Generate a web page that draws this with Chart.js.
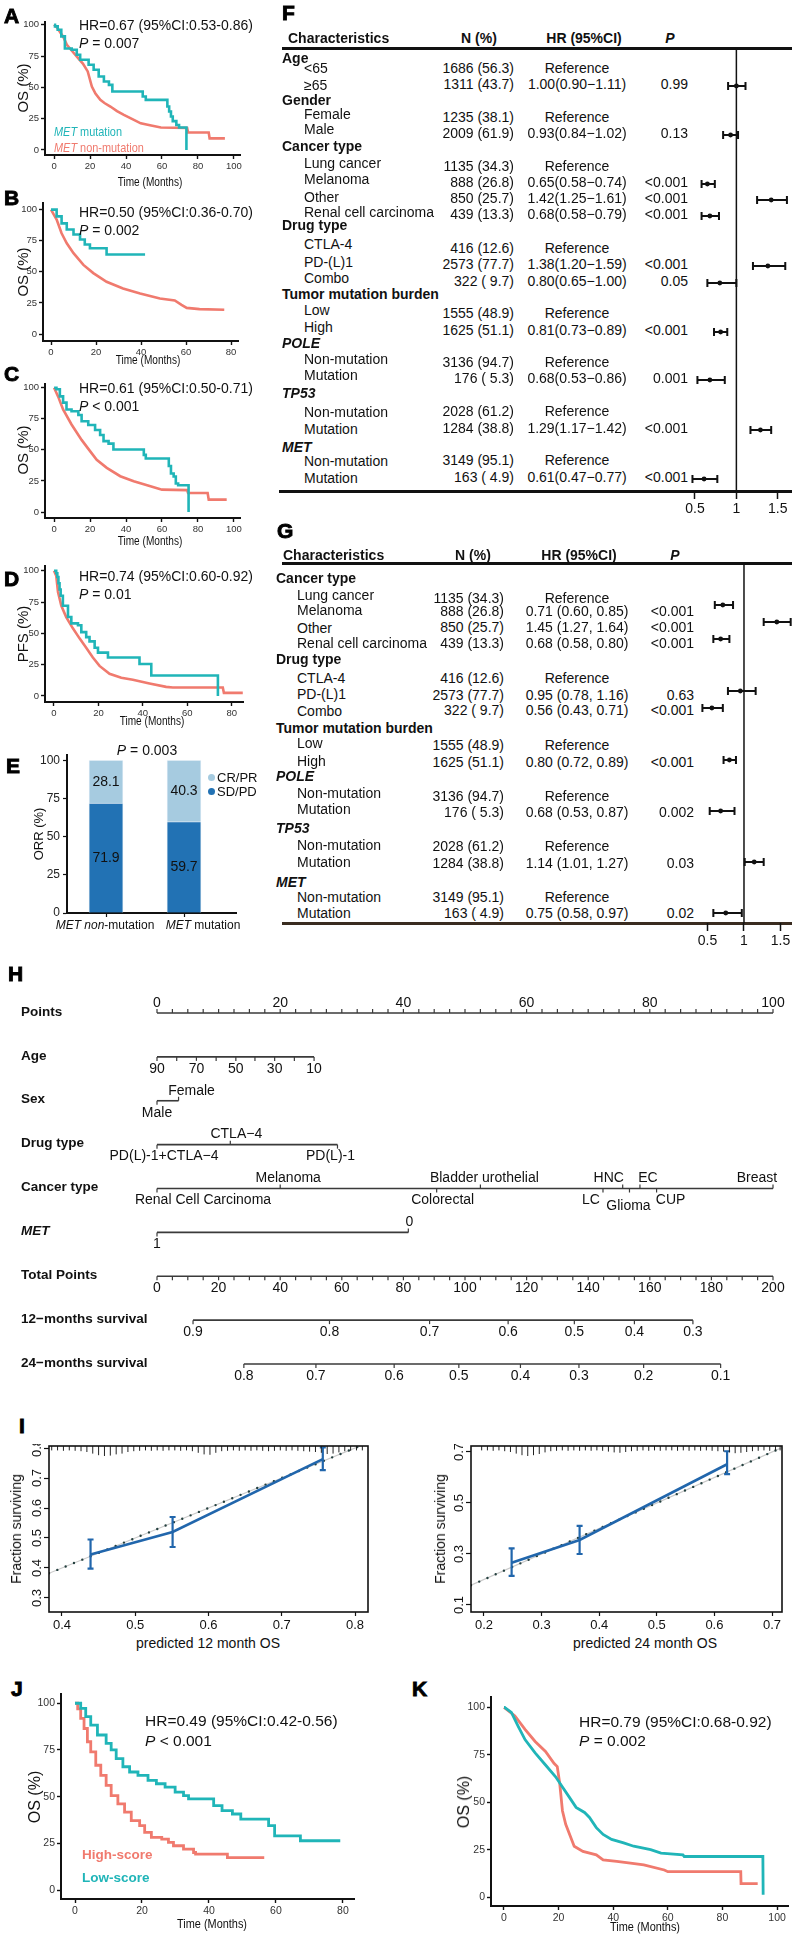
<!DOCTYPE html>
<html>
<head>
<meta charset="utf-8">
<title>MET mutation and ICI outcome</title>
<script src="https://cdn.jsdelivr.net/npm/chart.js@4.4.1/dist/chart.umd.min.js"></script>
<style>
  html, body { margin: 0; padding: 0; background: #fff; overflow: hidden; }
  body { position: relative; width: 792px; height: 1934px; }
  canvas { position: absolute; }
  .t { position: absolute; white-space: pre; line-height: 1; color: #111; }
  .rule { position: absolute; }
  .dot { position: absolute; border-radius: 50%; }
</style>
</head>
<body>
<script>
// ========== DATA: Kaplan-Meier curves (time in months, survival in %) ==========
const aMutT = [0, 0.5, 2, 4, 6, 9.8, 12.6, 14.5, 19.2, 22, 24.8, 27.7, 30.5, 32.4, 49.3, 51, 63, 64, 65, 66, 68, 69.5, 73.6];
const aMutS = [100, 98.7, 96, 90.7, 81, 80, 76, 72, 68, 64, 58.7, 54.7, 52, 46.7, 42.7, 40, 34.7, 30.7, 26.7, 23, 20, 18, 0];
const aNonT = [0, 2, 5.2, 7.1, 10, 13.6, 16, 18.7, 21, 23, 25.7, 28, 31.3, 35, 38.8, 43, 48.2, 54, 59.4, 74, 74.5, 86, 86.5, 95];
const aNonS = [100, 97, 90, 84, 79, 73, 69, 62.7, 50.7, 45, 40, 37.5, 34.7, 31, 28, 25, 21.3, 19.5, 17.9, 17.5, 13.9, 13.9, 9.3, 9.3];

const bMutT = [0, 1, 2.5, 4.7, 7, 10, 12.9, 15, 17.3, 24.7, 41.8];
const bMutS = [100, 100, 94.6, 89, 84, 80, 76, 72, 69, 64, 64];
const bNonT = [0, 0.3, 2.5, 4.7, 7, 10, 14.4, 18.8, 24.7, 32, 39.6, 48.4, 55, 58, 60.3, 66, 77];
const bNonS = [100, 100, 92, 81, 73, 65, 55.6, 49, 42, 36.6, 32.5, 28.5, 27, 23.4, 21, 20, 19.5];

const cMutT = [0, 1.3, 3.2, 5, 6.9, 9.7, 13.5, 15.3, 19, 22.8, 25.6, 27.5, 30.3, 33, 49.9, 51, 63.8, 65, 66.5, 67.7, 69, 74.8];
const cMutS = [100, 98.7, 93, 88, 82.5, 81, 78, 73, 70, 66, 62, 57, 55, 50.3, 46, 43, 37, 31, 28.6, 23, 21.5, 0];
const cNonT = [0, 2.2, 5, 9.7, 15.3, 20, 23.7, 29.3, 36.8, 44.3, 53.6, 60, 74, 74.5, 85.4, 86, 96];
const cNonS = [100, 93, 82.5, 70.4, 58, 49, 42, 35.5, 28.8, 24.7, 20.7, 18, 17.6, 15.3, 15.3, 10, 10];

const dMutT = [0, 1, 1.5, 2, 2.5, 3, 4, 6.3, 7.8, 10.8, 12.3, 14.5, 16, 18.3, 19.8, 24.3, 38.5, 43.8, 73.8];
const dMutS = [100, 98, 95, 90, 85, 80, 72, 63, 58, 56.5, 51, 47, 43.6, 38.5, 34.6, 30.7, 25.5, 16.4, 0];
const dNonT = [0, 1, 1.8, 3.3, 5.5, 8.5, 11.5, 14.5, 17.5, 20.5, 25, 30.3, 35.5, 43, 50.5, 53.5, 76, 76.5, 85];
const dNonS = [100, 96, 83, 72, 63, 54, 46, 38.5, 30.7, 24, 17.7, 14.6, 13, 10, 7.3, 6.8, 6.8, 2.5, 2.5];

const jLowT = [0, 0.2, 1.7, 3.2, 4.7, 6.7, 9.3, 10.8, 12.3, 14.3, 16.3, 18.8, 21.8, 24.3, 26.9, 29.9, 32.4, 33.9, 41.4, 43.9, 47, 49.5, 57.8, 59.6, 67.3, 79.2];
const jLowS = [100, 100, 97.3, 92.8, 88.3, 83, 78.5, 75, 70.4, 66, 63.2, 61.4, 58.7, 56.9, 55.1, 52.4, 50.6, 48.8, 45.2, 42.5, 40.7, 38, 34.5, 29, 26.4, 26.4];
const jHighT = [0, 0.8, 1.7, 2.7, 3.7, 4.7, 6.2, 7.7, 9.3, 10.8, 12.8, 14.8, 16.8, 19.3, 20.8, 22.8, 25.9, 27.9, 29.4, 32.4, 35.4, 36, 45.5, 56.5];
const jHighS = [100, 97, 91.9, 86.5, 79.4, 74, 66.8, 61.4, 56, 50.6, 46.1, 41.7, 37.2, 34.5, 30.9, 28.2, 27.3, 25.5, 23.7, 21.9, 20.1, 19.2, 17.4, 17.4];

const kLowT = [0, 0.2, 2.7, 5.2, 7.7, 11.4, 15.2, 18.9, 21.4, 23.9, 26.4, 29.5, 31.3, 33.8, 36.3, 39.4, 43.8, 47.5, 53.7, 57.5, 65.5, 66, 94.8, 94.9];
const kLowS = [100, 100, 97.3, 90, 83, 76, 69.6, 63.4, 58, 52.7, 47.3, 44.6, 42, 36.6, 33, 30.4, 28.6, 26.8, 25, 23.2, 22.3, 21.4, 21.4, 1.2];
const kHighT = [0, 4, 7.7, 11.4, 15.2, 18.3, 19.5, 20.4, 21.4, 22.6, 24.5, 25.7, 28.9, 33.8, 36.3, 41.3, 46.3, 51.2, 58.7, 60, 86.7, 86.8, 92.9];
const kHighS = [100, 95.5, 88.4, 82, 76.8, 70.5, 68.8, 60, 45.5, 38.4, 31.3, 26.8, 24.1, 22.3, 19.6, 18.8, 17.9, 17, 14.3, 13.4, 13.4, 7.1, 7.1];

const kmTicks100 = [0, 20, 40, 60, 80, 100];
const kmTicks80 = [0, 20, 40, 60, 80];
const kmYTicks = [0, 25, 50, 75, 100];

// ========== DATA: panel E (objective response) ==========
const eCats = [
  [['MET ', true], ['non', true], ['-mutation', false]],
  [['MET', true], [' mutation', false]]
];
const eSdPd = [71.9, 59.7];
const eCrPr = [28.1, 40.3];
const eYTicks = [0, 25, 50, 75, 100];

// ========== DATA: panel F (univariate Cox) ==========
const fRows = ['Age', '<65', '≥65', 'Gender', 'Female', 'Male', 'Cancer type', 'Lung cancer', 'Melanoma', 'Other', 'Renal cell carcinoma', 'Drug type', 'CTLA-4', 'PD-(L)1', 'Combo', 'Tumor mutation burden', 'Low', 'High', 'POLE', 'Non-mutation', 'Mutation', 'TP53', 'Non-mutation', 'Mutation', 'MET', 'Non-mutation', 'Mutation'];
const fN = ['', '1686 (56.3)', '1311 (43.7)', '', '1235 (38.1)', '2009 (61.9)', '', '1135 (34.3)', '888 (26.8)', '850 (25.7)', '439 (13.3)', '', '416 (12.6)', '2573 (77.7)', '322 ( 9.7)', '', '1555 (48.9)', '1625 (51.1)', '', '3136 (94.7)', '176 ( 5.3)', '', '2028 (61.2)', '1284 (38.8)', '', '3149 (95.1)', '163 ( 4.9)'];
const fHR = [null, null, 1.00, null, null, 0.93, null, null, 0.65, 1.42, 0.68, null, null, 1.38, 0.80, null, null, 0.81, null, null, 0.68, null, null, 1.29, null, null, 0.61];
const fLo = [null, null, 0.90, null, null, 0.84, null, null, 0.58, 1.25, 0.58, null, null, 1.20, 0.65, null, null, 0.73, null, null, 0.53, null, null, 1.17, null, null, 0.47];
const fHi = [null, null, 1.11, null, null, 1.02, null, null, 0.74, 1.61, 0.79, null, null, 1.59, 1.00, null, null, 0.89, null, null, 0.86, null, null, 1.42, null, null, 0.77];
const fP = ['', '', '0.99', '', '', '0.13', '', '', '<0.001', '<0.001', '<0.001', '', '', '<0.001', '0.05', '', '', '<0.001', '', '', '0.001', '', '', '<0.001', '', '', '<0.001'];

// ========== DATA: panel G (multivariate Cox) ==========
const gRows = ['Cancer type', 'Lung cancer', 'Melanoma', 'Other', 'Renal cell carcinoma', 'Drug type', 'CTLA-4', 'PD-(L)1', 'Combo', 'Tumor mutation burden', 'Low', 'High', 'POLE', 'Non-mutation', 'Mutation', 'TP53', 'Non-mutation', 'Mutation', 'MET', 'Non-mutation', 'Mutation'];
const gN = ['', '1135 (34.3)', '888 (26.8)', '850 (25.7)', '439 (13.3)', '', '416 (12.6)', '2573 (77.7)', '322 ( 9.7)', '', '1555 (48.9)', '1625 (51.1)', '', '3136 (94.7)', '176 ( 5.3)', '', '2028 (61.2)', '1284 (38.8)', '', '3149 (95.1)', '163 ( 4.9)'];
const gHR = [null, null, 0.71, 1.45, 0.68, null, null, 0.95, 0.56, null, null, 0.80, null, null, 0.68, null, null, 1.14, null, null, 0.75];
const gLo = [null, null, 0.60, 1.27, 0.58, null, null, 0.78, 0.43, null, null, 0.72, null, null, 0.53, null, null, 1.01, null, null, 0.58];
const gHi = [null, null, 0.85, 1.64, 0.80, null, null, 1.16, 0.71, null, null, 0.89, null, null, 0.87, null, null, 1.27, null, null, 0.97];
const gP = ['', '', '<0.001', '<0.001', '<0.001', '', '', '0.63', '<0.001', '', '', '<0.001', '', '', '0.002', '', '', '0.03', '', '', '0.02'];
const forestTicks = [0.5, 1, 1.5];

// ========== DATA: panel H (nomogram, values in points) ==========
const nomoNames = ['Points', 'Age', 'Sex', 'Drug type', 'Cancer type', 'MET', 'Total Points', '12−months survival', '24−months survival'];
const pointsLabels = [0, 20, 40, 60, 80, 100];
const ageValues = [90, 80, 70, 60, 50, 40, 30, 20, 10];
const agePoints = [0, 3.2, 6.4, 9.6, 12.8, 15.9, 19.1, 22.3, 25.5];
const ageShown = [90, 70, 50, 30, 10];
const sexLevels = ['Male', 'Female'];
const sexPoints = [0, 3.5];
const drugLevels = ['PD(L)-1+CTLA−4', 'CTLA−4', 'PD(L)-1'];
const drugPoints = [0, 11.9, 29.3];
const cancerLevels = ['Renal Cell Carcinoma', 'Melanoma', 'Colorectal', 'Bladder urothelial', 'LC', 'HNC', 'Glioma', 'EC', 'CUP', 'Breast'];
const cancerPoints = [0, 20, 45.4, 52.5, 72.4, 75.6, 76.7, 78.4, 81.1, 100];
const metLevels = ['1', '0'];
const metPoints = [0, 40.8];
const totalLabels = [0, 20, 40, 60, 80, 100, 120, 140, 160, 180, 200];
const surv12Labels = ['0.9', '0.8', '0.7', '0.6', '0.5', '0.4', '0.3'];
const surv12Points = [11.7, 56, 88.5, 114, 135.5, 155, 174];
const surv24Labels = ['0.8', '0.7', '0.6', '0.5', '0.4', '0.3', '0.2', '0.1'];
const surv24Points = [28.2, 51.6, 77, 98, 118, 137, 158, 183];

// ========== DATA: panel I (calibration) ==========
const cal12Pred = [0.439, 0.551, 0.756];
const cal12Obs = [0.445, 0.52, 0.763];
const cal12Lo = [0.398, 0.47, 0.726];
const cal12Hi = [0.495, 0.57, 0.802];
const cal24Pred = [0.248, 0.366, 0.622];
const cal24Obs = [0.266, 0.355, 0.652];
const cal24Lo = [0.214, 0.30, 0.613];
const cal24Hi = [0.322, 0.41, 0.703];
const rug12X = [0.386, 0.394, 0.402, 0.410, 0.418, 0.426, 0.434, 0.442, 0.450, 0.458, 0.466, 0.474, 0.482, 0.490, 0.498, 0.506, 0.514, 0.522, 0.530, 0.538, 0.546, 0.554, 0.562, 0.570, 0.578, 0.586, 0.594, 0.602, 0.610, 0.618, 0.626, 0.634, 0.642, 0.650, 0.658, 0.666, 0.674, 0.682, 0.690, 0.698, 0.706, 0.714, 0.722, 0.730, 0.738, 0.746, 0.754, 0.762, 0.770, 0.778, 0.786, 0.794, 0.802, 0.810];
const rug12H = [0.3, 0.3, 0.35, 0.3, 0.35, 0.4, 0.5, 0.7, 0.9, 1.0, 0.95, 0.8, 0.7, 0.5, 0.4, 0.35, 0.3, 0.35, 0.3, 0.35, 0.3, 0.3, 0.35, 0.3, 0.4, 0.6, 0.8, 0.85, 0.6, 0.4, 0.35, 0.3, 0.35, 0.3, 0.35, 0.3, 0.35, 0.4, 0.35, 0.3, 0.35, 0.3, 0.35, 0.4, 0.45, 0.5, 0.6, 0.75, 0.7, 0.55, 0.4, 0.35, 0.3, 0.3];
const rug24X = [0.196, 0.206, 0.216, 0.226, 0.236, 0.246, 0.256, 0.266, 0.276, 0.286, 0.296, 0.306, 0.316, 0.326, 0.336, 0.346, 0.356, 0.366, 0.376, 0.386, 0.396, 0.406, 0.416, 0.426, 0.436, 0.446, 0.456, 0.466, 0.476, 0.486, 0.496, 0.506, 0.516, 0.526, 0.536, 0.546, 0.556, 0.566, 0.576, 0.586, 0.596, 0.606, 0.616, 0.626, 0.636, 0.646, 0.656, 0.666, 0.676, 0.686, 0.696, 0.706, 0.714];
const rug24H = [0.3, 0.3, 0.35, 0.3, 0.4, 0.5, 0.7, 0.9, 1.0, 0.9, 0.75, 0.55, 0.4, 0.35, 0.3, 0.35, 0.3, 0.35, 0.3, 0.35, 0.3, 0.35, 0.45, 0.55, 0.6, 0.5, 0.4, 0.35, 0.3, 0.35, 0.3, 0.35, 0.3, 0.3, 0.35, 0.3, 0.35, 0.3, 0.35, 0.3, 0.35, 0.4, 0.45, 0.55, 0.65, 0.6, 0.5, 0.4, 0.35, 0.3, 0.35, 0.3, 0.3];
const cal12XTicks = [0.4, 0.5, 0.6, 0.7, 0.8];
const cal12YTicks = [0.3, 0.4, 0.5, 0.6, 0.7, 0.8];
const cal24XTicks = [0.2, 0.3, 0.4, 0.5, 0.6, 0.7];
const cal24YTicks = [0.1, 0.3, 0.5, 0.7];

// ========== STYLE ==========
const SANS = "'Liberation Sans', Arial, Helvetica, sans-serif";
function hasFont(name) {
  const c = document.createElement('canvas').getContext('2d');
  c.font = '40px monospace';
  const base = c.measureText('abcdefghijMWil').width;
  c.font = `40px '${name}', monospace`;
  return c.measureText('abcdefghijMWil').width !== base;
}
const HAS_NARROW = hasFont('Liberation Sans Narrow');
const NARROW = HAS_NARROW ? "'Liberation Sans Narrow', 'Arial Narrow', sans-serif" : SANS;
const NARROW_SX = HAS_NARROW ? 1 : 0.84;
const NARROW_DS = HAS_NARROW ? 0 : -1.5;
const TEAL = '#20B5B8';
const SALMON = '#F07A6E';
const E_DARK = '#2272B4';
const E_LIGHT = '#A6CBE0';
const CAL_BLUE = '#2166AC';

Chart.defaults.font.family = SANS;
Chart.defaults.color = '#111';
Chart.defaults.animation = false;
Chart.defaults.events = [];

// ========== HELPERS ==========
function txt(content, x, y, o = {}) {
  const d = document.createElement('div');
  d.className = 't';
  if (o.html) d.innerHTML = content; else d.textContent = content;
  const s = d.style;
  s.left = x + 'px';
  s.top = y + 'px';
  s.fontFamily = o.family || SANS;
  s.fontSize = (o.size || 14) + 'px';
  s.fontWeight = o.weight || 400;
  s.fontStyle = o.style || 'normal';
  s.color = o.color || '#111';
  const align = o.align || 'left';
  const tx = align === 'center' ? '-50%' : align === 'right' ? '-100%' : '0';
  s.transformOrigin = align === 'center' ? '50% 50%' : align === 'right' ? '100% 50%' : '0 50%';
  let tf = `translate(${tx}, -50%)`;
  if (o.rotate) {
    s.transformOrigin = '50% 50%';
    tf = `translate(-50%, -50%) rotate(${o.rotate}deg)`;
  }
  if (o.sx && o.sx !== 1) tf += ` scaleX(${o.sx})`;
  s.transform = tf;
  if (o.stroke) s.webkitTextStroke = o.stroke;
  document.body.appendChild(d);
  return d;
}
function rule(x, y, w, h, color) {
  const d = document.createElement('div');
  d.className = 'rule';
  Object.assign(d.style, { left: x + 'px', top: y + 'px', width: w + 'px', height: h + 'px', background: color || '#111' });
  document.body.appendChild(d);
}
function letter(ch, x, y) {
  txt(ch, x, y, { size: 21, weight: 700, stroke: '0.9px #000', color: '#000' });
}
function seq(a, b, step) {
  const out = [];
  for (let v = a; v <= b + 1e-9; v += step) out.push(+v.toFixed(4));
  return out;
}
// build a chart, then size and move its canvas so the plot area lands on `area`
function placeChart(makeConfig, area) {
  const build = (w, h) => {
    const cv = document.createElement('canvas');
    cv.width = w; cv.height = h;
    cv.style.width = w + 'px'; cv.style.height = h + 'px';
    document.body.appendChild(cv);
    return new Chart(cv, makeConfig());
  };
  const aw = area.right - area.left, ah = area.bottom - area.top;
  let chart = build(aw + 120, ah + 120);
  const ca = chart.chartArea;
  const mL = ca.left, mT = ca.top, mR = chart.width - ca.right, mB = chart.height - ca.bottom;
  const old = chart.canvas;
  chart.destroy();
  old.remove();
  chart = build(Math.round(aw + mL + mR), Math.round(ah + mT + mB));
  chart.canvas.style.left = (area.left - chart.chartArea.left) + 'px';
  chart.canvas.style.top = (area.top - chart.chartArea.top) + 'px';
  return chart;
}
function drawRich(ctx, parts, cx, y, size) {
  const fontOf = it => `${it ? 'italic ' : ''}${size}px ${SANS}`;
  let total = 0;
  parts.forEach(([t, it]) => { ctx.font = fontOf(it); total += ctx.measureText(t).width; });
  let x = cx - total / 2;
  ctx.textAlign = 'left';
  parts.forEach(([t, it]) => { ctx.font = fontOf(it); ctx.fillText(t, x, y); x += ctx.measureText(t).width; });
}

// ========== KAPLAN-MEIER PANELS ==========
function kmAxis(r, size, dir) {
  return {
    type: 'linear', min: r.min, max: r.max,
    afterBuildTicks: sc => { sc.ticks = r.ticks.map(v => ({ value: v })); },
    grid: { display: true, drawOnChartArea: false, drawTicks: true, tickLength: 4, tickColor: '#111', tickWidth: 1.4 },
    border: { display: true, color: '#111', width: 2 },
    ticks: { font: { size: size + NARROW_DS, family: NARROW }, color: '#333', padding: 2, maxRotation: 0, autoSkip: false },
    afterFit: sc => { if (dir === 'x') sc.height = size + 10; else sc.width = 30; }
  };
}
function kmConfig(p) {
  return () => ({
    type: 'line',
    data: {
      datasets: p.series.map(s => ({
        data: s.t.map((t, i) => ({ x: t, y: s.s[i] })),
        borderColor: s.color,
        borderWidth: p.lw || 2.6,
        stepped: s.step ? 'before' : false,
        pointRadius: 0,
        tension: 0,
        fill: false
      }))
    },
    options: {
      responsive: false,
      maintainAspectRatio: false,
      layout: { padding: { top: 2, right: 6 } },
      plugins: { legend: { display: false }, tooltip: { enabled: false } },
      scales: { x: kmAxis(p.x, p.size, 'x'), y: kmAxis(p.y, p.size, 'y') }
    }
  });
}

const kmPanels = [
  { area: { left: 45, right: 240, top: 22, bottom: 155 }, size: 11,
    x: { min: -5.06, max: 103.4, ticks: kmTicks100 }, y: { min: -4, max: 102.4, ticks: kmYTicks },
    series: [{ t: aMutT, s: aMutS, color: TEAL, step: true }, { t: aNonT, s: aNonS, color: SALMON }] },
  { area: { left: 43, right: 238, top: 203, bottom: 341 }, size: 11,
    x: { min: -3.56, max: 83.1, ticks: kmTicks80 }, y: { min: -5.6, max: 105.6, ticks: kmYTicks },
    series: [{ t: bMutT, s: bMutS, color: TEAL, step: true }, { t: bNonT, s: bNonS, color: SALMON }] },
  { area: { left: 45, right: 240, top: 384, bottom: 518 }, size: 11,
    x: { min: -5.06, max: 103.4, ticks: kmTicks100 }, y: { min: -4.8, max: 103.2, ticks: kmYTicks },
    series: [{ t: cMutT, s: cMutS, color: TEAL, step: true }, { t: cNonT, s: cNonS, color: SALMON }] },
  { area: { left: 45, right: 243, top: 566, bottom: 702 }, size: 11,
    x: { min: -4.05, max: 85.1, ticks: kmTicks80 }, y: { min: -4.8, max: 104, ticks: kmYTicks },
    series: [{ t: dMutT, s: dMutS, color: TEAL, step: true }, { t: dNonT, s: dNonS, color: SALMON }] },
  { area: { left: 61, right: 354, top: 1694, bottom: 1899 }, size: 12, lw: 2.8,
    x: { min: -4.18, max: 83.3, ticks: kmTicks80 }, y: { min: -4.8, max: 104.8, ticks: kmYTicks },
    series: [{ t: jLowT, s: jLowS, color: TEAL, step: true }, { t: jHighT, s: jHighS, color: SALMON, step: true }] },
  { area: { left: 491, right: 788, top: 1697, bottom: 1906 }, size: 12, lw: 2.8,
    x: { min: -4.76, max: 104, ticks: kmTicks100 }, y: { min: -4.7, max: 105.3, ticks: kmYTicks },
    series: [{ t: kLowT, s: kLowS, color: TEAL }, { t: kHighT, s: kHighS, color: SALMON }] }
];
kmPanels.forEach(p => placeChart(kmConfig(p), p.area));

// KM annotations
const kmText = [
  { L: 'A', ly: 15, hr: 'HR=0.67 (95%CI:0.53-0.86)', p: '<i>P</i> = 0.007', hx: 79, hy: 25, yl: 'OS (%)', yc: 88, tx: 150, ty: 182 },
  { L: 'B', ly: 197, hr: 'HR=0.50 (95%CI:0.36-0.70)', p: '<i>P</i> = 0.002', hx: 79, hy: 212, yl: 'OS (%)', yc: 272, tx: 148, ty: 360 },
  { L: 'C', ly: 373, hr: 'HR=0.61 (95%CI:0.50-0.71)', p: '<i>P</i> &lt; 0.001', hx: 79, hy: 388, yl: 'OS (%)', yc: 450, tx: 150, ty: 541 },
  { L: 'D', ly: 578, hr: 'HR=0.74 (95%CI:0.60-0.92)', p: '<i>P</i> = 0.01', hx: 79, hy: 576, yl: 'PFS (%)', yc: 634, tx: 152, ty: 721 }
];
kmText.forEach(k => {
  letter(k.L, 4, k.ly);
  txt(k.hr, k.hx, k.hy, { size: 14 });
  txt(k.p, k.hx, k.hy + 18, { size: 14, html: true });
  txt(k.yl, 22, k.yc, { size: 15, rotate: -90 });
  txt('Time (Months)', k.tx, k.ty, { size: 12, family: NARROW, sx: NARROW_SX, align: 'center' });
});
txt('<i>MET</i> mutation', 54, 131, { size: 13, family: NARROW, sx: NARROW_SX, color: TEAL, html: true });
txt('<i>MET</i> non-mutation', 54, 147, { size: 13, family: NARROW, sx: NARROW_SX, color: SALMON, html: true });

letter('J', 11, 1688);
txt('HR=0.49 (95%CI:0.42-0.56)', 145, 1721, { size: 15.5 });
txt('<i>P</i> &lt; 0.001', 145, 1741, { size: 15.5, html: true });
txt('OS (%)', 35, 1797, { size: 16, rotate: -90 });
txt('Time (Months)', 212, 1923, { size: 13, family: NARROW, sx: NARROW_SX, align: 'center' });
txt('High-score', 82, 1855, { size: 13.5, weight: 700, color: SALMON });
txt('Low-score', 82, 1878, { size: 13.5, weight: 700, color: TEAL });

letter('K', 412, 1688);
txt('HR=0.79 (95%CI:0.68-0.92)', 579, 1722, { size: 15.5 });
txt('<i>P</i> = 0.002', 579, 1741, { size: 15.5, html: true });
txt('OS (%)', 464, 1802, { size: 16, rotate: -90 });
txt('Time (Months)', 645, 1926, { size: 13, family: NARROW, sx: NARROW_SX, align: 'center' });

// ========== PANEL E: stacked response bars ==========
const eCatNames = eCats.map(parts => parts.map(p => p[0]).join(''));
const eLabelDx = [-1, 19];
const eBarText = {
  id: 'eBarText',
  afterDatasetsDraw(chart) {
    const { ctx, chartArea: ca } = chart;
    ctx.save();
    // the x axis line runs a little past the last bar slot
    ctx.strokeStyle = '#111';
    ctx.lineWidth = 2;
    ctx.beginPath(); ctx.moveTo(ca.right - 1, ca.bottom); ctx.lineTo(ca.right + 14, ca.bottom); ctx.stroke();
    ctx.fillStyle = '#111';
    ctx.textBaseline = 'middle';
    ctx.textAlign = 'center';
    ctx.font = `14px ${SANS}`;
    chart.data.datasets.forEach((ds, i) => {
      chart.getDatasetMeta(i).data.forEach((bar, j) => {
        const { x, y, base } = bar.getProps(['x', 'y', 'base'], true);
        ctx.fillText(ds.data[j].toFixed(1), x, (y + base) / 2);
      });
    });
    const xs = chart.scales.x;
    eCats.forEach((parts, i) => drawRich(ctx, parts, xs.getPixelForValue(i) + eLabelDx[i], ca.bottom + 13, 12));
    ctx.restore();
  }
};
placeChart(() => ({
  type: 'bar',
  data: {
    labels: eCatNames,
    datasets: [
      { label: 'SD/PD', data: eSdPd, backgroundColor: E_DARK, borderColor: '#dce8f2', borderWidth: 0.8, barThickness: 34 },
      { label: 'CR/PR', data: eCrPr, backgroundColor: E_LIGHT, borderColor: '#eef5fa', borderWidth: 0.8, barThickness: 34 }
    ]
  },
  options: {
    responsive: false,
    layout: { padding: { top: 2, right: 18 } },
    plugins: { legend: { display: false }, tooltip: { enabled: false } },
    scales: {
      x: {
        type: 'category', stacked: true, offset: true,
        ticks: { display: false },
        grid: { offset: false, drawOnChartArea: false, drawTicks: true, tickLength: 4, tickColor: '#111', tickWidth: 1.2 },
        border: { display: true, color: '#111', width: 2 },
        afterFit: sc => { sc.height = 24; }
      },
      y: {
        type: 'linear', stacked: true, min: 0, max: 103.3,
        afterBuildTicks: sc => { sc.ticks = eYTicks.map(v => ({ value: v })); },
        ticks: { font: { size: 12 }, color: '#222', padding: 3 },
        grid: { drawOnChartArea: false, drawTicks: true, tickLength: 4, tickColor: '#111', tickWidth: 1.2 },
        border: { display: true, color: '#111', width: 2 },
        afterFit: sc => { sc.width = 30; }
      }
    }
  },
  plugins: [eBarText]
}), { left: 67, right: 223, top: 755, bottom: 913 });

letter('E', 6, 765);
txt('<i>P</i> = 0.003', 147, 750, { size: 14, align: 'center', html: true });
txt('ORR (%)', 38, 834, { size: 13, rotate: -90 });
[[E_LIGHT, 'CR/PR', 777], [E_DARK, 'SD/PD', 791]].forEach(([c, t, y]) => {
  const d = document.createElement('div');
  d.className = 'dot';
  Object.assign(d.style, { left: '208px', top: (y - 3.5) + 'px', width: '7px', height: '7px', background: c });
  document.body.appendChild(d);
  txt(t, 217, y, { size: 13 });
});

// ========== PANELS F & G: forest tables ==========
function forestPlugin(f) {
  return {
    id: 'forestCI',
    beforeDatasetsDraw(chart) {
      const { ctx, chartArea: ca, scales: { x, y } } = chart;
      ctx.save();
      ctx.strokeStyle = '#111';
      ctx.lineWidth = 1.5;
      const x1 = x.getPixelForValue(1);
      ctx.beginPath(); ctx.moveTo(x1, ca.top); ctx.lineTo(x1, ca.bottom); ctx.stroke();
      ctx.lineWidth = 2;
      f.lo.forEach((lo, i) => {
        if (lo == null) return;
        const py = y.getPixelForValue(f.markY[i]);
        const a = x.getPixelForValue(lo), b = x.getPixelForValue(f.hi[i]);
        ctx.beginPath();
        ctx.moveTo(a, py); ctx.lineTo(b, py);
        ctx.moveTo(a, py - 4); ctx.lineTo(a, py + 4);
        ctx.moveTo(b, py - 4); ctx.lineTo(b, py + 4);
        ctx.stroke();
      });
      ctx.restore();
    }
  };
}
function forestConfig(f) {
  return () => ({
    type: 'scatter',
    data: {
      datasets: [{
        data: f.hr.map((v, i) => (v == null ? null : { x: v, y: f.markY[i] })).filter(Boolean),
        pointRadius: 2.4, pointBackgroundColor: '#111', pointBorderWidth: 0, clip: false
      }]
    },
    options: {
      responsive: false,
      layout: { padding: 0 },
      plugins: { legend: { display: false }, tooltip: { enabled: false } },
      scales: {
        x: {
          type: 'linear', min: f.xMin, max: f.xMax,
          afterBuildTicks: sc => { sc.ticks = forestTicks.map(v => ({ value: v })); },
          grid: { drawOnChartArea: false, drawTicks: true, tickLength: 8, tickColor: '#111', tickWidth: 1.5 },
          border: { display: false },
          ticks: { font: { size: 14 }, color: '#111', padding: 2, maxRotation: 0, autoSkip: false, callback: v => String(v) },
          afterFit: sc => { sc.height = 28; }
        },
        y: { type: 'linear', min: f.area.top, max: f.area.bottom, reverse: true, display: false }
      }
    },
    plugins: [forestPlugin(f)]
  });
}
function drawTable(t) {
  t.rows.forEach((name, i) => {
    if (t.n[i] === '') {
      const gene = ['POLE', 'TP53', 'MET'].includes(name);
      txt(name, t.groupX, t.labelY[i], { weight: 700, style: gene ? 'italic' : 'normal' });
      return;
    }
    txt(name, t.subX, t.labelY[i]);
    txt(t.n[i], t.nRight, t.valY[i], { align: 'right' });
    const hr = t.hr[i] == null ? 'Reference' : t.fmt(t.hr[i], t.lo[i], t.hi[i]);
    txt(hr, t.hrCenter, t.valY[i], { align: 'center' });
    if (t.p[i]) txt(t.p[i], t.pRight, t.valY[i], { align: 'right' });
  });
  const h = t.head;
  txt('Characteristics', h.c, h.y, { weight: 700 });
  txt('N (%)', h.n, h.y, { weight: 700, align: 'center' });
  txt('HR (95%CI)', h.hr, h.y, { weight: 700, align: 'center' });
  txt('P', h.p, h.y, { weight: 700, style: 'italic', align: 'center' });
}

// F layout
const fLabelY = [58, 68, 85, 100, 114, 129, 146, 163, 179, 197, 212, 225, 244, 262, 278, 294, 310, 327, 343, 359, 375, 393, 412, 429, 447, 461, 478];
const fValY = [0, 68, 84, 0, 117, 133, 0, 166, 182, 198, 214, 0, 248, 264, 281, 0, 313, 330, 0, 362, 378, 0, 411, 428, 0, 460, 477];
const fTable = {
  rows: fRows, n: fN, hr: fHR, lo: fLo, hi: fHi, p: fP, labelY: fLabelY, valY: fValY,
  groupX: 282, subX: 304, nRight: 514, hrCenter: 577, pRight: 688,
  fmt: (h, l, u) => `${h.toFixed(2)}(${l.toFixed(2)}−${u.toFixed(2)})`,
  head: { y: 38, c: 288, n: 479, hr: 584, p: 670 }
};
drawTable(fTable);
letter('F', 282, 12);
rule(282, 47, 510, 2.5);
rule(279, 490, 513, 2.5);
placeChart(forestConfig({
  hr: fHR, lo: fLo, hi: fHi, markY: fValY.map(v => v + 2),
  xMin: 0.435, xMax: 1.635, area: { left: 690, right: 792, top: 48, bottom: 491 }
}), { left: 690, right: 792, top: 48, bottom: 491 });

// G layout
const gLabelY = [578, 595, 610, 628, 643, 659, 678, 694, 711, 728, 743, 761, 776, 793, 809, 828, 845, 862, 882, 897, 913];
const gValY = [0, 598, 611, 627, 643, 0, 678, 695, 710, 0, 745, 762, 0, 796, 812, 0, 846, 863, 0, 897, 913];
const gMarkY = [0, 0, 605, 622, 639, 0, 0, 691, 708, 0, 0, 760, 0, 0, 811, 0, 0, 862, 0, 0, 913];
const gTable = {
  rows: gRows, n: gN, hr: gHR, lo: gLo, hi: gHi, p: gP, labelY: gLabelY, valY: gValY,
  groupX: 276, subX: 297, nRight: 504, hrCenter: 577, pRight: 694,
  fmt: (h, l, u) => `${h.toFixed(2)} (${l.toFixed(2)}, ${u.toFixed(2)})`,
  head: { y: 555, c: 283, n: 473, hr: 579, p: 675 }
};
drawTable(gTable);
letter('G', 277, 530);
rule(282, 562, 510, 2.5);
rule(282, 921.5, 510, 3, '#3a2c20');
placeChart(forestConfig({
  hr: gHR, lo: gLo, hi: gHi, markY: gMarkY,
  xMin: 0.26, xMax: 1.658, area: { left: 690, right: 792, top: 563, bottom: 923 }
}), { left: 690, right: 792, top: 563, bottom: 923 });

// ========== PANEL H: nomogram ==========
function nomoRows() {
  const cat = (levels, pts, side, dx, dy) => ({
    ticks: pts.map((v, i) => ({ v, dir: side[i] })),
    labels: levels.map((t, i) => ({ v: pts[i], t, pos: side[i], dx: dx[i], dy: dy ? dy[i] : 0 }))
  });
  return [
    { axis: 'xp', from: 0, to: 100, ticks: seq(0, 100, 2.5).map(v => ({ v, dir: 'up' })),
      labels: pointsLabels.map(v => ({ v, t: String(v), pos: 'up' })) },
    { axis: 'xp', from: agePoints[0], to: agePoints[agePoints.length - 1],
      ticks: agePoints.map(v => ({ v, dir: 'down' })),
      labels: ageValues.map((a, i) => ({ v: agePoints[i], t: String(a), pos: 'down' })).filter(l => ageShown.includes(+l.t)) },
    { axis: 'xp', from: sexPoints[0], to: sexPoints[1], ...cat(sexLevels, sexPoints, ['down', 'up'], [0, 13]) },
    { axis: 'xp', from: drugPoints[0], to: drugPoints[2], ...cat(drugLevels, drugPoints, ['down', 'up', 'down'], [7, 6, -7]) },
    { axis: 'xp', from: cancerPoints[0], to: cancerPoints[cancerPoints.length - 1],
      ...cat(cancerLevels, cancerPoints, ['down', 'up', 'down', 'up', 'down', 'up', 'down', 'up', 'down', 'up'],
        [46, 8, 6, 4, -12, -14, -1, 8, 14, -16], [0, 0, 0, 0, 0, 0, 6, 0, 0, 0]) },
    { axis: 'xp', from: metPoints[0], to: metPoints[1], italic: true, ...cat(metLevels, metPoints, ['down', 'up'], [0, 1]) },
    { axis: 'xt', from: 0, to: 200, ticks: seq(0, 200, 5).map(v => ({ v, dir: 'down' })),
      labels: totalLabels.map(v => ({ v, t: String(v), pos: 'down' })) },
    { axis: 'xt', from: surv12Points[0], to: surv12Points[surv12Points.length - 1],
      ticks: surv12Points.map(v => ({ v, dir: 'down' })),
      labels: surv12Labels.map((t, i) => ({ v: surv12Points[i], t, pos: 'down' })) },
    { axis: 'xt', from: surv24Points[0], to: surv24Points[surv24Points.length - 1],
      ticks: surv24Points.map(v => ({ v, dir: 'down' })),
      labels: surv24Labels.map((t, i) => ({ v: surv24Points[i], t, pos: 'down' })) }
  ].map((r, i) => ({ ...r, name: nomoNames[i] }));
}
function nomoPlugin(rows) {
  return {
    id: 'nomo',
    afterDatasetsDraw(chart) {
      const { ctx, scales, chartArea: ca } = chart;
      ctx.save();
      ctx.strokeStyle = '#3a3a3a';
      ctx.fillStyle = '#111';
      ctx.lineWidth = 1.2;
      ctx.textBaseline = 'middle';
      rows.forEach((r, i) => {
        const sc = scales[r.axis];
        const py = scales.y.getPixelForValue(i);
        r.ticks.forEach(tk => {
          const px = sc.getPixelForValue(tk.v);
          ctx.beginPath(); ctx.moveTo(px, py); ctx.lineTo(px, py + (tk.dir === 'up' ? -4 : 4)); ctx.stroke();
        });
        ctx.font = `14px ${SANS}`;
        ctx.textAlign = 'center';
        r.labels.forEach(l => {
          const px = sc.getPixelForValue(l.v) + (l.dx || 0);
          ctx.fillText(l.t, px, py + (l.pos === 'up' ? -10 : 12) + (l.dy || 0));
        });
        ctx.font = `${r.italic ? 'italic ' : ''}bold 13.5px ${SANS}`;
        ctx.textAlign = 'left';
        ctx.fillText(r.name, ca.left - 136, py - 1);
      });
      ctx.restore();
    }
  };
}
placeChart(() => {
  const rows = nomoRows();
  return {
    type: 'scatter',
    data: {
      datasets: rows.map((r, i) => ({
        data: [{ x: r.from, y: i }, { x: r.to, y: i }],
        xAxisID: r.axis, showLine: true, borderColor: '#3a3a3a', borderWidth: 1.6, pointRadius: 0, clip: false
      }))
    },
    options: {
      responsive: false,
      layout: { padding: { left: 157, right: 19, top: 22, bottom: 24 } },
      plugins: { legend: { display: false }, tooltip: { enabled: false } },
      scales: {
        xp: { type: 'linear', axis: 'x', min: 0, max: 100, display: false },
        xt: { type: 'linear', axis: 'x', min: 0, max: 200, display: false },
        y: { type: 'linear', min: 0, max: 8, reverse: true, display: false }
      }
    },
    plugins: [nomoPlugin(rows)]
  };
}, { left: 157, right: 773, top: 1013, bottom: 1364 });
letter('H', 8, 973);

// ========== PANEL I: calibration ==========
function calPlugin(c) {
  return {
    id: 'calib',
    afterDatasetsDraw(chart) {
      const { ctx, chartArea: ca, scales: { x, y } } = chart;
      ctx.save();
      ctx.strokeStyle = CAL_BLUE;
      ctx.lineWidth = 2.2;
      c.pred.forEach((p, i) => {
        const px = x.getPixelForValue(p), a = y.getPixelForValue(c.lo[i]), b = y.getPixelForValue(c.hi[i]);
        ctx.beginPath();
        ctx.moveTo(px, a); ctx.lineTo(px, b);
        ctx.moveTo(px - 3, a); ctx.lineTo(px + 3, a);
        ctx.moveTo(px - 3, b); ctx.lineTo(px + 3, b);
        ctx.stroke();
      });
      ctx.strokeStyle = '#222';
      ctx.lineWidth = 1;
      c.rugX.forEach((r, i) => {
        const px = x.getPixelForValue(r);
        ctx.beginPath(); ctx.moveTo(px, ca.top); ctx.lineTo(px, ca.top + 2 + c.rugH[i] * 8); ctx.stroke();
      });
      ctx.strokeStyle = '#111';
      ctx.lineWidth = 1.6;
      ctx.strokeRect(ca.left, ca.top, ca.right - ca.left, ca.bottom - ca.top);
      ctx.fillStyle = '#111';
      ctx.font = `13px ${SANS}`;
      ctx.textAlign = 'center';
      ctx.textBaseline = 'middle';
      c.yTicks.forEach(v => {
        ctx.save();
        ctx.translate(ca.left - 12, y.getPixelForValue(v));
        ctx.rotate(-Math.PI / 2);
        ctx.fillText(v.toFixed(1), 0, 0);
        ctx.restore();
      });
      ctx.restore();
    }
  };
}
function calConfig(c) {
  return () => {
    const diag = [{ x: c.x.min, y: c.x.min }, { x: c.x.max, y: c.x.max }];
    return {
      type: 'scatter',
      data: {
        datasets: [
          { data: c.pred.map((p, i) => ({ x: p, y: c.obs[i] })), showLine: true, borderColor: CAL_BLUE, borderWidth: 2.6, pointRadius: 0 },
          { data: diag, showLine: true, borderColor: '#24403f', borderWidth: 2.4, borderDash: [0, 9], borderCapStyle: 'round', pointRadius: 0 },
          { data: diag, showLine: true, borderColor: '#c9c9c9', borderWidth: 1.2, pointRadius: 0 }
        ]
      },
      options: {
        responsive: false,
        layout: { padding: { left: 30, top: 2, right: 3 } },
        plugins: { legend: { display: false }, tooltip: { enabled: false } },
        scales: {
          x: {
            type: 'linear', min: c.x.min, max: c.x.max,
            afterBuildTicks: sc => { sc.ticks = c.xTicks.map(v => ({ value: v })); },
            ticks: { font: { size: 13 }, color: '#111', padding: 2, maxRotation: 0, autoSkip: false, callback: v => v.toFixed(1) },
            grid: { drawOnChartArea: false, drawTicks: true, tickLength: 4, tickColor: '#111', tickWidth: 1.2 },
            border: { display: false },
            afterFit: sc => { sc.height = 18; }
          },
          y: {
            type: 'linear', min: c.y.min, max: c.y.max,
            afterBuildTicks: sc => { sc.ticks = c.yTicks.map(v => ({ value: v })); },
            ticks: { display: false },
            grid: { drawOnChartArea: false, drawTicks: true, tickLength: 5, tickColor: '#111', tickWidth: 1.2 },
            border: { display: false },
            afterFit: sc => { sc.width = 5; }
          }
        }
      },
      plugins: [calPlugin(c)]
    };
  };
}
placeChart(calConfig({
  pred: cal12Pred, obs: cal12Obs, lo: cal12Lo, hi: cal12Hi, rugX: rug12X, rugH: rug12H,
  xTicks: cal12XTicks, yTicks: cal12YTicks, x: { min: 0.3823, max: 0.8177 }, y: { min: 0.2533, max: 0.8067 }
}), { left: 49, right: 368, top: 1446, bottom: 1612 });
placeChart(calConfig({
  pred: cal24Pred, obs: cal24Obs, lo: cal24Lo, hi: cal24Hi, rugX: rug24X, rugH: rug24H,
  xTicks: cal24XTicks, yTicks: cal24YTicks, x: { min: 0.1775, max: 0.7173 }, y: { min: 0.0725, max: 0.7235 }
}), { left: 471, right: 782, top: 1446, bottom: 1612 });
letter('I', 19, 1425);
txt('Fraction surviving', 16, 1529, { size: 14, rotate: -90 });
txt('Fraction surviving', 440, 1529, { size: 14, rotate: -90 });
txt('predicted 12 month OS', 208, 1643, { size: 14, align: 'center' });
txt('predicted 24 month OS', 645, 1643, { size: 14, align: 'center' });
</script>
</body>
</html>
